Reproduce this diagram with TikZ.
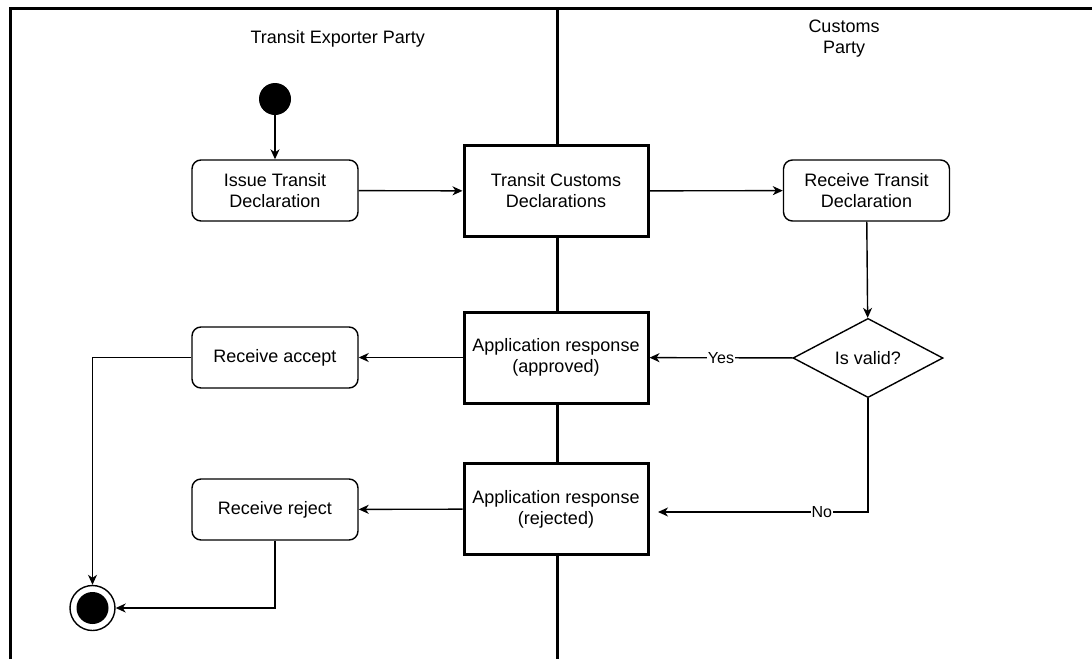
\documentclass[tikz,border=0pt]{standalone}
\usepackage{fontspec}
\setmainfont{Liberation Sans}
\usetikzlibrary{shapes.geometric, arrows.meta, positioning, calc}

\begin{document}
\begin{tikzpicture}[
    x=1pt, y=-1pt,
    txt/.style={font=\fontsize{18}{21}\selectfont, align=center},
    act/.style={rectangle, draw, fill=white, line width=1.4pt, rounded corners=9pt, minimum width=166pt, minimum height=61pt, txt},
    task/.style={rectangle, draw, fill=white, line width=3pt, minimum width=184pt, minimum height=91pt, txt},
    decision/.style={diamond, draw, fill=white, line width=1.4pt, minimum width=150pt, minimum height=76pt, inner sep=0pt, txt},
    arrow/.style={-{Stealth[length=10pt, width=9pt, inset=3pt]}, line width=1.4pt},
    lane/.style={line width=3pt},
    lbl/.style={fill=white, inner sep=1pt, font=\fontsize{16}{18}\selectfont}
]
\useasboundingbox (0,0) rectangle (1092,659);

% swimlanes
\draw[lane] (10,659) -- (10,8) -- (1092,8);
\draw[lane] (557,8) -- (557,659);
\node[txt, anchor=west] (expTitle) at (247,39) {Transit Exporter Party};
\node[txt] (cusTitle) at (844,39) {Customs\\Party};

% nodes
\node[circle, fill, minimum size=32pt, inner sep=0pt] (start) at (275,99) {};
\node[act] (issue) at (275,190.5) {Issue Transit\\Declaration};
\node[task] (tcd) at (556,191) {Transit Customs\\Declarations};
\node[act] (recvDecl) at (866.5,190.5) {Receive Transit\\Declaration};
\node[decision] (valid) at (868,358) {Is valid?};
\node[task] (approved) at (556,357.5) {Application response\\(approved)};
\node[act] (accept) at (275,357.5) {Receive accept};
\node[task] (rejected) at (556,509) {Application response\\(rejected)};
\node[act] (reject) at (275,509.5) {Receive reject};
\node[circle, draw, line width=1.4pt, minimum size=45pt, inner sep=0pt] (stop) at (92.5,608) {};
\node[circle, fill, minimum size=32pt, inner sep=0pt] (stopDot) at (stop) {};
\coordinate (noEnd) at (658,512);

% connectors
\draw[arrow] (start) -- (issue);
\draw[arrow] (issue) -- (tcd);
\draw[arrow] (tcd) -- (recvDecl);
\draw[arrow] (recvDecl) -- (valid);
\draw[arrow] (valid) -- node[lbl] {Yes} (approved);
\draw[arrow] (valid.south) |- node[lbl, pos=0.61] {No} (noEnd);
\draw[arrow] (approved) -- (accept);
\draw[arrow] (rejected) -- (reject);
\draw[arrow] (accept.west) -| (stop.north);
\draw[arrow] (reject.south) |- (stop.east);
\end{tikzpicture}
\end{document}
